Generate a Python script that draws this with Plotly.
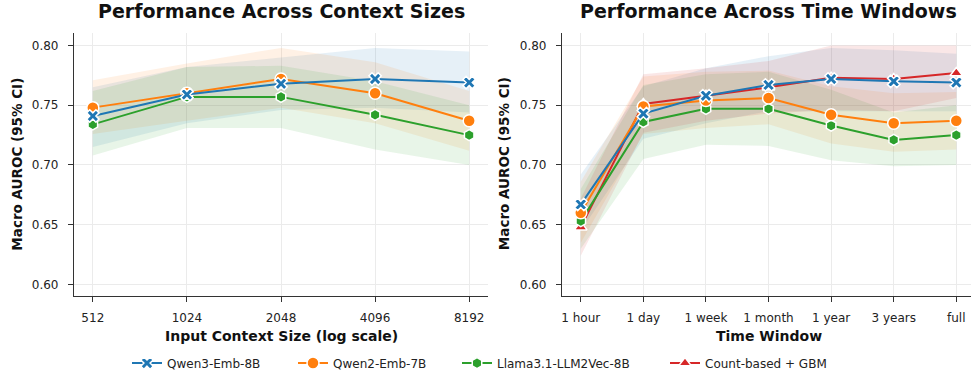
import math
import plotly.graph_objects as go

# ---------------- data ----------------
context_sizes = [512, 1024, 2048, 4096, 8192]
time_windows = ["1 hour", "1 day", "1 week", "1 month", "1 year", "3 years", "full"]

models = ["Qwen3-Emb-8B", "Qwen2-Emb-7B", "Llama3.1-LLM2Vec-8B", "Count-based + GBM"]

# Context panel (mean, lower, upper)
ctx_qwen3 = [0.741, 0.759, 0.768, 0.772, 0.769]
ctx_qwen3_lo = [0.715, 0.735, 0.746, 0.748, 0.744]
ctx_qwen3_hi = [0.765, 0.782, 0.790, 0.798, 0.795]

ctx_qwen2 = [0.748, 0.760, 0.772, 0.760, 0.737]
ctx_qwen2_lo = [0.726, 0.737, 0.748, 0.735, 0.712]
ctx_qwen2_hi = [0.771, 0.785, 0.798, 0.786, 0.762]

ctx_llama = [0.734, 0.757, 0.757, 0.742, 0.725]
ctx_llama_lo = [0.708, 0.731, 0.731, 0.713, 0.700]
ctx_llama_hi = [0.762, 0.782, 0.783, 0.770, 0.750]

# Time-window panel
tw_qwen3 = [0.667, 0.743, 0.758, 0.767, 0.772, 0.770, 0.769]
tw_qwen3_lo = [0.645, 0.722, 0.735, 0.745, 0.745, 0.745, 0.745]
tw_qwen3_hi = [0.692, 0.766, 0.781, 0.791, 0.798, 0.796, 0.793]

tw_qwen2 = [0.660, 0.749, 0.754, 0.756, 0.742, 0.735, 0.737]
tw_qwen2_lo = [0.635, 0.726, 0.731, 0.734, 0.718, 0.711, 0.713]
tw_qwen2_hi = [0.686, 0.774, 0.778, 0.779, 0.766, 0.760, 0.761]

tw_llama = [0.653, 0.736, 0.747, 0.747, 0.733, 0.721, 0.725]
tw_llama_lo = [0.630, 0.705, 0.717, 0.716, 0.704, 0.699, 0.700]
tw_llama_hi = [0.680, 0.767, 0.776, 0.778, 0.763, 0.744, 0.750]

tw_gbm = [0.648, 0.751, 0.758, 0.765, 0.773, 0.772, 0.777]
tw_gbm_lo = [0.624, 0.727, 0.737, 0.743, 0.746, 0.745, 0.756]
tw_gbm_hi = [0.672, 0.776, 0.781, 0.787, 0.800, 0.800, 0.800]

y_ticks = [0.60, 0.65, 0.70, 0.75, 0.80]

# ---------------- style ----------------
colors = {"Qwen3-Emb-8B": "#1f77b4", "Qwen2-Emb-7B": "#ff7f0e",
          "Llama3.1-LLM2Vec-8B": "#2ca02c", "Count-based + GBM": "#d62728"}
fills = {"Qwen3-Emb-8B": "rgba(31,119,180,0.11)", "Qwen2-Emb-7B": "rgba(255,127,14,0.11)",
         "Llama3.1-LLM2Vec-8B": "rgba(44,160,44,0.11)", "Count-based + GBM": "rgba(214,39,40,0.11)"}
symbols = {"Qwen3-Emb-8B": "x", "Qwen2-Emb-7B": "circle",
           "Llama3.1-LLM2Vec-8B": "hexagon", "Count-based + GBM": "triangle-up"}
sizes = {"Qwen3-Emb-8B": 11, "Qwen2-Emb-7B": 12,
         "Llama3.1-LLM2Vec-8B": 11, "Count-based + GBM": 11}
# one legend per entry, placed where the reference has it (left edge of the swatch, px)
legend_ids = {"Qwen3-Emb-8B": "legend", "Qwen2-Emb-7B": "legend2",
              "Llama3.1-LLM2Vec-8B": "legend3", "Count-based + GBM": "legend4"}
legend_px = {"Qwen3-Emb-8B": 137, "Qwen2-Emb-7B": 303,
             "Llama3.1-LLM2Vec-8B": 467, "Count-based + GBM": 675}

FONT = "DejaVu Sans"
W, H = 971, 378

fig = go.Figure()

ctx_series = {
    "Qwen3-Emb-8B": (ctx_qwen3, ctx_qwen3_lo, ctx_qwen3_hi),
    "Qwen2-Emb-7B": (ctx_qwen2, ctx_qwen2_lo, ctx_qwen2_hi),
    "Llama3.1-LLM2Vec-8B": (ctx_llama, ctx_llama_lo, ctx_llama_hi),
}
tw_series = {
    "Qwen3-Emb-8B": (tw_qwen3, tw_qwen3_lo, tw_qwen3_hi),
    "Qwen2-Emb-7B": (tw_qwen2, tw_qwen2_lo, tw_qwen2_hi),
    "Llama3.1-LLM2Vec-8B": (tw_llama, tw_llama_lo, tw_llama_hi),
    "Count-based + GBM": (tw_gbm, tw_gbm_lo, tw_gbm_hi),
}

def add_panel(xs, series, xa, ya, show_legend):
    for m in models:
        if m not in series:
            continue
        mean, lo, hi = series[m]
        fig.add_trace(go.Scatter(
            x=list(xs) + list(xs)[::-1], y=list(hi) + list(lo)[::-1],
            fill="toself", fillcolor=fills[m], line=dict(width=0),
            mode="lines", hoverinfo="skip", showlegend=False,
            xaxis=xa, yaxis=ya))
    for m in reversed(models):
        if m not in series:
            continue
        mean, lo, hi = series[m]
        fig.add_trace(go.Scatter(
            x=xs, y=mean, name=m, mode="lines+markers",
            line=dict(color=colors[m], width=2),
            marker=dict(symbol=symbols[m], size=sizes[m], color=colors[m],
                        line=dict(color="white", width=1.5)),
            showlegend=show_legend, legend=legend_ids[m],
            xaxis=xa, yaxis=ya))

add_panel(context_sizes, ctx_series, "x", "y", False)
add_panel(time_windows, tw_series, "x2", "y2", True)

# ---------------- layout ----------------
x1_dom = [74 / W, 488 / W]
x2_dom = [562 / W, 1.0]
y_dom = [1 - 297.3 / H, 1 - 33 / H]

axis_common = dict(
    showline=True, linecolor="#333333", linewidth=1.2,
    ticks="outside", ticklen=5, tickwidth=1.2, tickcolor="#333333",
    showgrid=True, gridcolor="#ebebeb", gridwidth=1,
    zeroline=False, mirror=False,
    tickfont=dict(family=FONT, size=12, color="#222222"),
)

l2 = math.log10(2)
layout = dict(
    width=W, height=H,
    margin=dict(l=0, r=0, t=0, b=0),
    paper_bgcolor="white", plot_bgcolor="white",
    font=dict(family=FONT, size=12, color="#222222"),
    showlegend=True,
    xaxis=dict(domain=x1_dom, anchor="y", type="log",
               range=[math.log10(context_sizes[0]) - 0.2 * l2,
                      math.log10(context_sizes[-1]) + 0.2 * l2],
               tickvals=context_sizes, ticktext=[str(c) for c in context_sizes],
               ticklabelstandoff=6, **axis_common),
    yaxis=dict(domain=y_dom, anchor="x", range=[0.5906, 0.8106],
               tickvals=y_ticks, tickformat=".2f", ticklabelstandoff=7,
               **axis_common),
    xaxis2=dict(domain=x2_dom, anchor="y2", type="category",
                range=[-0.3, 6.235], categoryorder="array",
                categoryarray=time_windows, ticklabelstandoff=6, **axis_common),
    yaxis2=dict(domain=y_dom, anchor="x2", range=[0.5906, 0.8106],
                tickvals=y_ticks, tickformat=".2f", ticklabelstandoff=7,
                **axis_common),
)
for m in models:
    layout[legend_ids[m]] = dict(
        orientation="h", x=(legend_px[m] - 10) / W, xanchor="left",
        y=1 - 365 / H, yanchor="middle",
        font=dict(family=FONT, size=12, color="#222222"),
        bgcolor="rgba(0,0,0,0)")
fig.update_layout(**layout)

def ann(text, x, y, size, angle=0):
    fig.add_annotation(text=text, x=x / W, y=1 - y / H, xref="paper", yref="paper",
                       xanchor="center", yanchor="middle", showarrow=False,
                       textangle=angle,
                       font=dict(family=FONT, size=size, color="#111111"))

ann("<b>Performance Across Context Sizes</b>", 281, 11, 19)
ann("<b>Performance Across Time Windows</b>", 768.5, 11, 19)
ann("<b>Input Context Size (log scale)</b>", 281, 338, 14)
ann("<b>Time Window</b>", 768.5, 338, 14)
ann("<b>Macro AUROC (95% CI)</b>", 17.5, 165, 13.5, -90)
ann("<b>Macro AUROC (95% CI)</b>", 504, 165, 13.5, -90)

fig.write_html("out.html")
